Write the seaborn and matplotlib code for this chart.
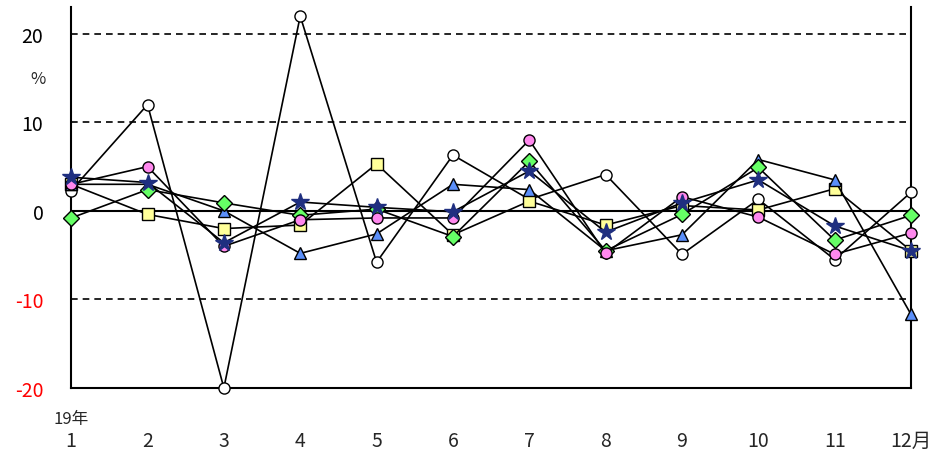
import numpy as np
import pandas as pd
import matplotlib
matplotlib.use('Agg')
import matplotlib.pyplot as plt
import seaborn as sns

months = list(range(1, 13))
x_labels = ['1', '2', '3', '4', '5', '6', '7', '8', '9', '10', '11', '12月']

white_circle = [2.3, 12.0, -20.0, 22.0, -5.8, 6.3, 1.3, 4.1, -4.9, 1.3, -5.5, 2.1]
yellow_square = [3.0, -0.4, -2.0, -1.6, 5.3, -2.7, 1.1, -1.6, 0.6, 0.1, 2.5, -4.5]
blue_triangle = [3.0, 3.0, 0.0, -4.8, -2.6, 3.0, 2.4, -4.5, -2.7, 5.8, 3.5, -11.7]
green_diamond = [-0.8, 2.4, 0.9, -0.5, 0.2, -2.9, 5.6, -4.5, -0.4, 4.9, -3.3, -0.5]
pink_circle = [3.0, 5.0, -4.0, -1.0, -0.8, -0.8, 8.0, -4.8, 1.6, -0.7, -4.9, -2.5]
star = [3.8, 3.2, -3.6, 1.0, 0.4, -0.1, 4.5, -2.4, 0.9, 3.5, -1.7, -4.5]

series = [
    (white_circle, 'o', 'white', 'black', 8),
    (yellow_square, 's', '#ffff99', 'black', 8),
    (blue_triangle, '^', '#5b8ff9', 'black', 8),
    (green_diamond, 'D', '#66ff66', 'black', 8),
    (pink_circle, 'o', '#ff88ee', 'black', 8),
    (star, '*', '#1f2f80', '#1f2f80', 13),
]

sns.set_style('white')
fig = plt.figure(figsize=(9.49, 4.56), dpi=100)
ax = fig.add_axes([0.075, 0.147, 0.885, 0.835])

for vals, mk, fc, ec, ms in series:
    df = pd.DataFrame({'m': months, 'v': vals})
    sns.lineplot(data=df, x='m', y='v', ax=ax, color='black', lw=1.2,
                 marker=mk, markersize=ms, markerfacecolor=fc,
                 markeredgecolor=ec, markeredgewidth=1, clip_on=False, zorder=3)

for yv in [20, 10, -10]:
    ax.axhline(yv, color='black', ls='--', lw=1.2, dashes=(4, 3), zorder=1)
ax.axhline(0, color='black', lw=1.5, zorder=1)

ax.set_xlim(1, 12)
ax.set_ylim(-20, 23)
ax.set_yticks([20, 10, 0, -10, -20])
ax.set_yticklabels(['20', '10', '0', '-10', '-20'], fontsize=14)
for lbl, c in zip(ax.get_yticklabels(), ['black', 'black', 'black', 'red', 'red']):
    lbl.set_color(c)
ax.set_xticks(months)
ax.set_xticklabels(x_labels, fontsize=14)
plt.rcParams['font.family'] = ['Noto Sans CJK JP', 'DejaVu Sans']
for lbl in ax.get_xticklabels() + ax.get_yticklabels():
    lbl.set_family(['Noto Sans CJK JP', 'DejaVu Sans'])
ax.tick_params(axis='y', length=0, pad=20)
ax.tick_params(axis='x', length=0, pad=30)
ax.set_xlabel('')
ax.set_ylabel('')
ax.spines['top'].set_visible(False)
for s in ['left', 'right', 'bottom']:
    ax.spines[s].set_color('black')
    ax.spines[s].set_linewidth(1.5)

ax.text(-0.04, 0.8, '%', transform=ax.transAxes, fontsize=12, ha='center',
        family=['Noto Sans CJK JP', 'DejaVu Sans'])
ax.text(0.0, -0.08, '19年', transform=ax.transAxes, fontsize=12, ha='center',
        va='center', family=['Noto Sans CJK JP', 'DejaVu Sans'])

fig.savefig('out.png', dpi=100)
